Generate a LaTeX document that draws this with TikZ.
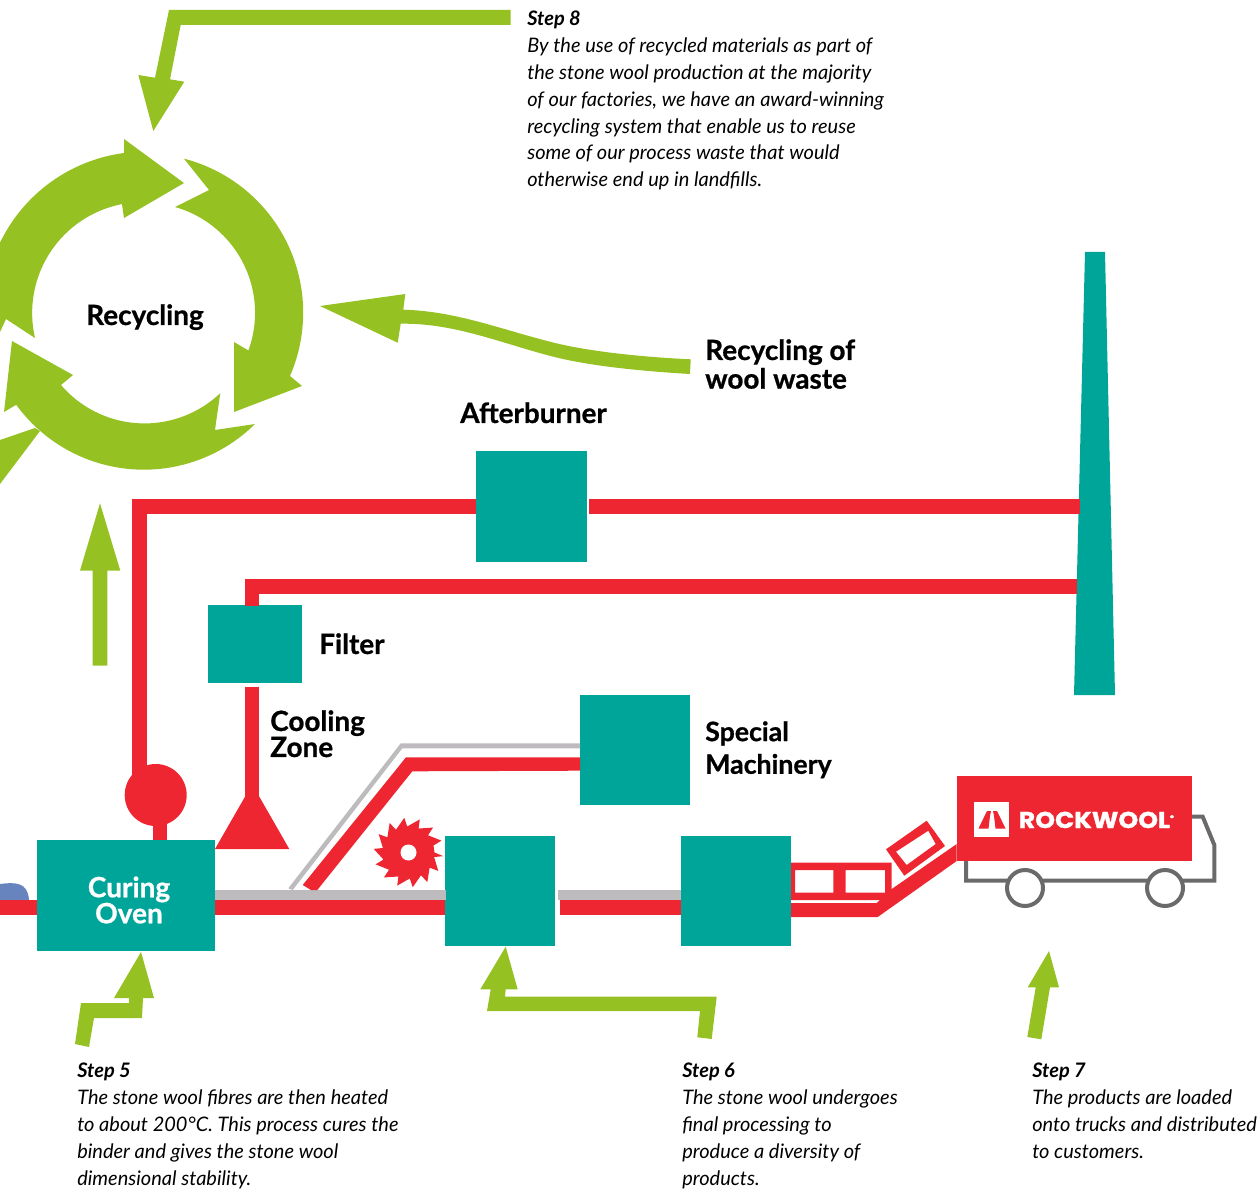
\documentclass[tikz,border=0pt]{standalone}
\usepackage{fontspec}
\setmainfont{Lato}
\newfontfamily\headfont[BoldFeatures={FakeBold=0.8}]{Lato}
\newfontfamily\brandfont[BoldFeatures={FakeBold=1.2, FakeStretch=1.1}]{Poppins}
\definecolor{leafgreen}{HTML}{95C123}
\definecolor{pipered}{HTML}{EE2631}
\definecolor{plantteal}{HTML}{00A59A}
\definecolor{beltgrey}{HTML}{BDBBBD}
\definecolor{truckgrey}{HTML}{6A6A6A}
\definecolor{woolblue}{HTML}{6884BE}
\tikzset{
	greenarrow/.style={fill=leafgreen},
	redpipe/.style={draw=pipered, line width=10.9pt},
	greybelt/.style={fill=beltgrey},
	tealbox/.style={fill=plantteal, inner sep=0pt, outer sep=0pt},
	heading/.style={font=\headfont\fontsize{20.9}{20}\selectfont\bfseries, inner sep=0pt, anchor=north west, align=left},
	steptext/.style={font=\fontsize{15}{20.1}\selectfont\itshape, inner sep=0pt, anchor=north west, align=left},
}
\begin{document}
\begin{tikzpicture}[x=0.75pt, y=-0.75pt]
		\useasboundingbox (0, 0) rectangle (1259, 1191);
		%%%%% RECYCLING %%%%%
		
		\fill[greenarrow] (124, 153) arc[start angle=262.5, end angle=205.8, radius=161] -- (0, 243) -- (0, 332) -- (6, 319) -- (35, 338) arc[start angle=167, end angle=259, radius=111] -- (124, 218) -- (184, 183) -- (124, 139) -- cycle;
		\fill[greenarrow] (290, 376) arc[start angle=23.5, end angle=-75.5, radius=159] -- (209, 190) -- (175, 207) arc[start angle=-74.2, end angle=20, radius=110] -- (234, 342) -- (234, 412) -- (302, 386) -- cycle;
		\fill[greenarrow] (61, 385) arc[start angle=139.4, end angle=46.5, radius=110] -- (215, 430) -- (255, 424) arc[start angle=45.3, end angle=143.9, radius=158] -- (4, 412) -- (12, 341) -- (73, 375) -- cycle;
		\fill[greenarrow] (35, 428) -- (40, 431) -- (0, 484) -- (0, 440) -- cycle;
		
		\node[heading] (recycling) at (86, 304) {Recycling};
		
		\fill[greenarrow] (510.7, 10) -- (169, 10) -- (155, 77.7) -- (138.3, 75) -- (153.3, 131) -- (184.3, 81.7) -- (170, 79.3) -- (180.7, 25) -- (510.7, 25) -- cycle;
		\fill[greenarrow] (320, 306) -- (405.3, 294) -- (403.3, 309.7) .. controls (455, 311) and (500, 329) .. (550, 341.7) .. controls (585, 351) and (640, 357) .. (690.7, 359.3) -- (690, 374) .. controls (640, 371) and (590, 366) .. (553.3, 356.7) .. controls (500, 343) and (455, 323) .. (400.7, 323.7) -- (397.7, 342.7) -- cycle;
		\fill[greenarrow] (100, 503.3) -- (120.3, 570.7) -- (107.3, 570.7) -- (107.3, 665.7) -- (92.7, 665.7) -- (92.7, 570.7) -- (80, 570.7) -- cycle;
		
		%%%%% PLANT %%%%%
		
		\node[tealbox, minimum width=83.25pt, minimum height=83.25pt] (afterburner) at (531.5, 506.5) {};
		\node[tealbox, minimum width=70.5pt, minimum height=58.5pt] (filter) at (255, 644) {};
		\node[tealbox, minimum width=82.5pt, minimum height=82.5pt] (special) at (635, 750) {};
		\node[tealbox, minimum width=133.5pt, minimum height=83.25pt] (oven) at (126, 895.5) {};
		\node[tealbox, minimum width=82.5pt, minimum height=82.5pt] (sawbox) at (500, 891) {};
		\node[tealbox, minimum width=82.5pt, minimum height=82.5pt] (packbox) at (736, 891) {};
		\fill[fill=plantteal] (1085, 252) -- (1105, 252) -- (1115, 695) -- (1074, 695) -- cycle;
		
		\coordinate (ductfoot) at (139.7, 790);
		\coordinate (burnerout) at (589, 506.5);
		\coordinate (stackupper) at (1080, 506.5);
		\coordinate (stacklower) at (1077, 586.3);
		\coordinate (filtertop) at (251.8, 606);
		\coordinate (hoodtop) at (252, 686.7);
		\coordinate (hoodneck) at (252, 800);
		\coordinate (beltstart) at (0, 907.5);
		\coordinate (beltmid) at (560, 907.5);
		
		\draw[redpipe] (ductfoot) |- (afterburner.west);
		\draw[redpipe] (burnerout) -- (stackupper);
		\draw[redpipe] (filtertop) |- (stacklower);
		\draw[redpipe] (hoodtop) -- (hoodneck);
		\fill[pipered] (245, 796.7) -- (259.3, 796.7) -- (289.3, 849) -- (215, 849) -- cycle;
		\node[circle, fill=pipered, inner sep=0pt, minimum size=46.5pt] (fan) at (155.7, 795) {};
		\draw[redpipe] (fan.south) ++(4.5, -2) -- (oven.north -| 160.2, 0);
		
		\fill[fill=woolblue] (0, 884) .. controls (15, 882) and (28, 882) .. (29, 900) -- (0, 900) -- cycle;
		\draw[redpipe] (beltstart) -- (oven.west |- beltstart);
		\draw[redpipe] (oven.east |- beltstart) -- (sawbox.west |- beltstart);
		\draw[redpipe] (beltmid) -- (packbox.west |- beltstart);
		\fill[greybelt] (215, 890) rectangle (445.7, 900);
		\fill[greybelt] (558, 890) rectangle (681, 900);
		
		\fill[greybelt] (288.3, 888.3) -- (400.7, 743.3) -- (580, 743.3) -- (580, 748.3) -- (402.3, 748.3) -- (292.7, 890) -- cycle;
		\fill[pipered] (302.7, 885) -- (406, 757.3) -- (580, 757.3) -- (580, 770.7) -- (412.3, 771.3) -- (317.3, 890) -- (311, 890) -- cycle;
		
		\begin{scope}[shift={(408.5, 852.5)}]
			\fill[pipered] (0:26) \foreach \k [evaluate=\k as \a using \k*25.71+6] in {0,...,13} { -- (\a:35) -- (\a+4:26) } -- cycle;
			\fill[white] (0, 0) circle (6pt);
		\end{scope}
		
		%%%%% TRUCK %%%%%
		
		\draw[truckgrey, line width=3pt] (1192, 816.7) -- (1202.7, 816.7) -- (1214.3, 845) -- (1214.3, 880.7) -- (966, 880.7) -- (966, 861);
		\draw[truckgrey, line width=3pt, fill=white] (1025, 888) circle (13.5pt);
		\draw[truckgrey, line width=3pt, fill=white] (1165, 888) circle (13.5pt);
		
		\fill[pipered] (791, 903) -- (876.7, 903) -- (891.7, 889) -- (956.7, 844) -- (956.7, 861) -- (877.7, 917) -- (791, 917) -- cycle;
		\fill[pipered, even odd rule] (791, 862.7) rectangle (891.7, 900) (795, 870) rectangle (833.3, 892.7) (845.7, 870) rectangle (885, 892.7);
		\fill[pipered, even odd rule] (926.7, 820.7) -- (945, 846) -- (904.3, 875.7) -- (886, 849.3) -- cycle (928.3, 830.7) -- (935.7, 844) -- (906.7, 865) -- (896, 851.7) -- cycle;
		
		\fill[pipered] (957, 776) rectangle (1192, 861);
		\fill[white] (974.3, 802.3) rectangle (1009.3, 837.3);
		\fill[pipered] (987, 811) -- (991, 811) -- (990, 816) -- (988.5, 828.5) -- (978.5, 828.5) -- cycle;
		\fill[pipered] (997, 811) -- (993, 811) -- (994, 816) -- (995.5, 828.5) -- (1005.5, 828.5) -- cycle;
		\node[white, font=\brandfont\bfseries\fontsize{17.2}{17.2}\selectfont, inner sep=0pt, anchor=base west] (brand) at (1018.5, 828) {ROCKWOOL\raisebox{6pt}{\fontsize{5}{5}\selectfont ®}};
		
		%%%%% STEP ARROWS %%%%%
		
		\fill[greenarrow] (141, 952) -- (154, 998) -- (143, 998) -- (142, 1018) -- (94, 1018) -- (89, 1047) -- (75, 1044) -- (81, 1003) -- (129, 1003) -- (129, 998) -- (114, 998) -- cycle;
		\fill[greenarrow] (505.7, 946.7) -- (517.7, 989.3) -- (505.7, 989.3) -- (505, 996.7) -- (716.7, 996.7) -- (711.7, 1039) -- (697.3, 1037.3) -- (700, 1011) -- (487, 1011) -- (490.7, 989.3) -- (480.3, 989.3) -- cycle;
		\fill[greenarrow] (1049, 951) -- (1059, 987.3) -- (1050, 987.3) -- (1041.3, 1039.3) -- (1027.3, 1037) -- (1035.7, 987.3) -- (1027.7, 987.3) -- cycle;
		
		%%%%% LABELS %%%%%
		
		\node[heading] (afterburnerlabel) at (460, 402) {Afterburner};
		\node[heading] (wastelabel) at (705, 339) {Recycling of\\[1.5pt]wool waste};
		\node[heading] (filterlabel) at (319, 633) {Filter};
		\node[heading] (coolinglabel) at (270, 710) {Cooling\\[-0.5pt]Zone};
		\node[heading, font=\headfont\fontsize{20}{20}\selectfont\bfseries] (speciallabel) at (705, 721) {Special\\[4.5pt]Machinery};
		\node[white, font=\headfont\fontsize{21}{19.5}\selectfont\bfseries, inner sep=0pt, align=center] (ovenlabel) at (129, 900) {Curing\\Oven};
		
		\node[steptext] (step8) at (527, 11) {\textbf{Step 8}\\By the use of recycled materials as part of\\the stone wool production at the majority\\of our factories, we have an award-winning\\recycling system that enable us to reuse\\some of our process waste that would\\otherwise end up in landfills.};
		\node[steptext] (step5) at (77, 1063) {\textbf{Step 5}\\The stone wool fibres are then heated\\to about 200°C. This process cures the\\binder and gives the stone wool\\dimensional stability.};
		\node[steptext] (step6) at (682, 1063) {\textbf{Step 6}\\The stone wool undergoes\\final processing to\\produce a diversity of\\products.};
		\node[steptext] (step7) at (1032, 1063) {\textbf{Step 7}\\The products are loaded\\onto trucks and distributed\\to customers.};
		
	\end{tikzpicture}
\end{document}
